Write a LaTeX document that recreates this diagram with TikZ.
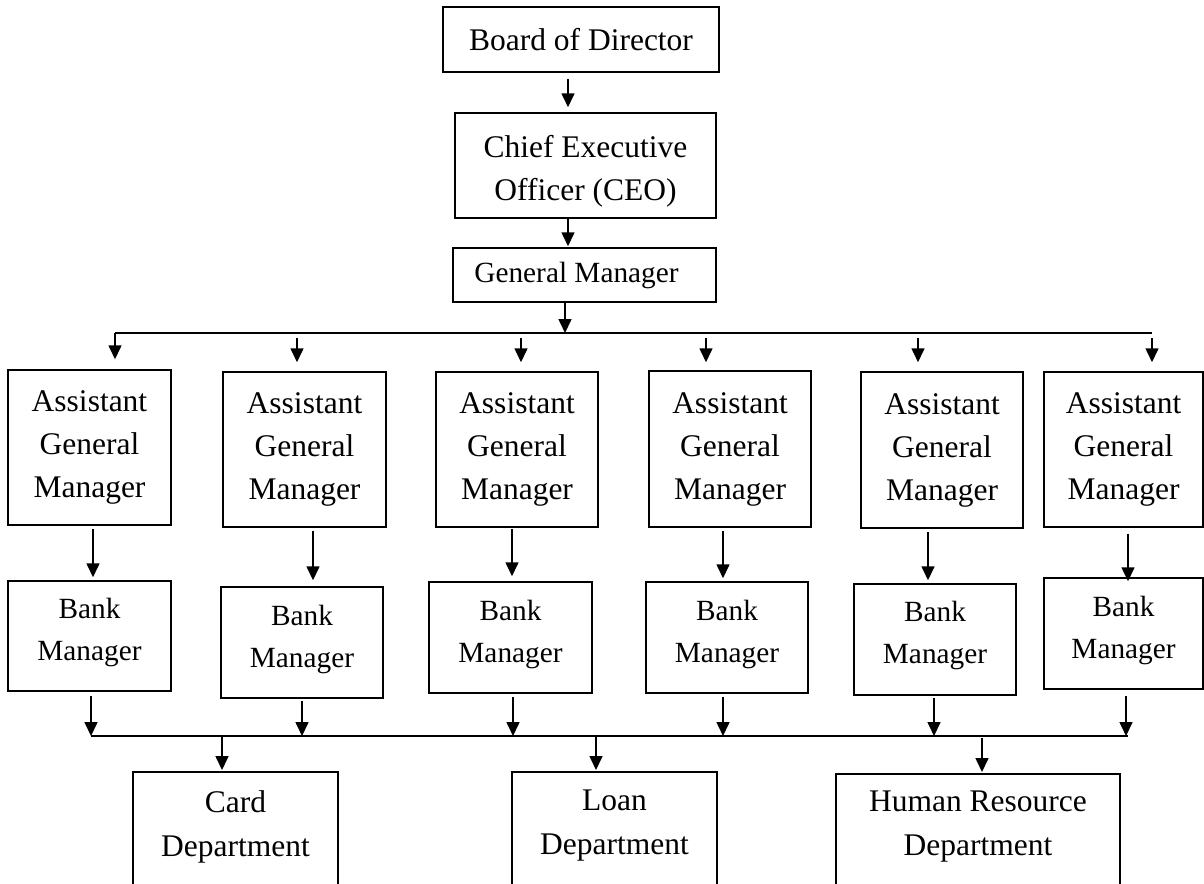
\documentclass[tikz,border=0pt]{standalone}
\usepackage{fontspec}
\setmainfont{Liberation Serif}
\usetikzlibrary{arrows.meta}
\begin{document}
\begin{tikzpicture}[x=1pt,y=-1pt,
  box/.style={draw,line width=1.5pt,inner sep=0pt,align=center,
    font=\fontsize{31.5}{43}\selectfont},
  frame/.style={draw,line width=1.5pt,inner sep=0pt},
  smalltext/.style={inner sep=0pt,align=center,font=\fontsize{29.3}{42}\selectfont},
  label/.style={inner sep=0pt,align=center,font=\fontsize{31.5}{44}\selectfont},
  link/.style={line width=1.6pt},
  arr/.style={link,-{Triangle[width=13pt,length=14pt]}}]
\useasboundingbox (0,0) rectangle (1204,883);
\clip (0,0) rectangle (1204,883);

% top of the hierarchy
\node[box,minimum width=276pt,minimum height=65pt] (board) at (581,39.5) {Board of Director};
\node[frame,minimum width=261pt,minimum height=105pt] (ceo) at (585.5,165.5) {};
\node[label,font=\fontsize{31.5}{43}\selectfont] (ceotxt) at (585.5,171.5) {Chief Executive\\Officer (CEO)};
\node[box,font=\fontsize{29.3}{42}\selectfont,minimum width=263pt,minimum height=54pt] (gm) at (584.5,275) {General Manager\hspace*{16pt}};

% assistant general managers
\node[box,minimum width=163pt,minimum height=155pt] (agm1) at (89.5,447.5) {Assistant\\General\\Manager};
\node[box,minimum width=163pt,minimum height=155pt] (agm2) at (304.5,449.5) {Assistant\\General\\Manager};
\node[box,minimum width=162pt,minimum height=155pt] (agm3) at (517,449.5) {Assistant\\General\\Manager};
\node[box,minimum width=162pt,minimum height=156pt] (agm4) at (730,449) {Assistant\\General\\Manager};
\node[box,minimum width=162pt,minimum height=156pt] (agm5) at (942,450) {Assistant\\General\\Manager};
\node[box,minimum width=159pt,minimum height=155pt] (agm6) at (1123.5,449.5) {Assistant\\General\\Manager};

% bank managers
\node[frame,minimum width=163pt,minimum height=110pt] (bm1) at (89.5,636) {};
\node[smalltext] (bm1txt) at (89.5,632) {Bank\\Manager};
\node[frame,minimum width=162pt,minimum height=111pt] (bm2) at (302,642.5) {};
\node[smalltext] (bm2txt) at (302,639) {Bank\\Manager};
\node[frame,minimum width=163pt,minimum height=111pt] (bm3) at (510.5,637.5) {};
\node[smalltext] (bm3txt) at (510.5,634) {Bank\\Manager};
\node[frame,minimum width=162pt,minimum height=111pt] (bm4) at (727,637.5) {};
\node[smalltext] (bm4txt) at (727,634) {Bank\\Manager};
\node[frame,minimum width=162pt,minimum height=111pt] (bm5) at (935,639.5) {};
\node[smalltext] (bm5txt) at (935,635.5) {Bank\\Manager};
\node[frame,minimum width=159pt,minimum height=111pt] (bm6) at (1123.5,633.5) {};
\node[smalltext] (bm6txt) at (1123.5,630) {Bank\\Manager};

% departments (boxes run past the lower edge)
\node[frame,minimum width=205pt,minimum height=200pt,anchor=north] (card) at (235.5,771) {};
\node[label] (cardtxt) at (235.5,827) {Card\\Department};
\node[frame,minimum width=205pt,minimum height=200pt,anchor=north] (loan) at (614.5,771) {};
\node[label] (loantxt) at (614.5,826) {Loan\\Department};
\node[frame,minimum width=284pt,minimum height=200pt,anchor=north] (hr) at (978,773) {};
\node[label] (hrtxt) at (978,827) {Human Resource\\Department};

% bus lines
\coordinate (busL) at (115,333);
\coordinate (busR) at (1152,333);
\coordinate (lbL) at (91,736);
\coordinate (lbR) at (1128,736);

% connectors
\draw[arr,shorten <=6pt,shorten >=5pt] (568,0 |- board.south) -- (568,0 |- ceo.north);
\draw[arr,shorten >=1pt] (568,0 |- ceo.south) -- (568,0 |- gm.north);
\draw[arr] (565,0 |- gm.south) -- (565,0 |- busL);
\draw[link] (busL) -- (busR);

\draw[arr,shorten >=10pt] (busL) -- (busL |- agm1.north);
\draw[arr,shorten <=5pt,shorten >=9pt] (297,0 |- busL) -- (297,0 |- agm2.north);
\draw[arr,shorten <=5pt,shorten >=9pt] (521,0 |- busL) -- (521,0 |- agm3.north);
\draw[arr,shorten <=5pt,shorten >=8pt] (706,0 |- busL) -- (706,0 |- agm4.north);
\draw[arr,shorten <=5pt,shorten >=9pt] (918,0 |- busL) -- (918,0 |- agm5.north);
\draw[arr,shorten <=5pt,shorten >=9pt] (busR) -- (busR |- agm6.north);

\draw[arr,shorten <=3pt,shorten >=3pt] (93,0 |- agm1.south) -- (93,0 |- bm1.north);
\draw[arr,shorten <=3pt,shorten >=6pt] (313,0 |- agm2.south) -- (313,0 |- bm2.north);
\draw[arr,shorten <=1pt,shorten >=5pt] (512,0 |- agm3.south) -- (512,0 |- bm3.north);
\draw[arr,shorten <=3pt,shorten >=3pt] (723,0 |- agm4.south) -- (723,0 |- bm4.north);
\draw[arr,shorten <=3pt,shorten >=3pt] (928,0 |- agm5.south) -- (928,0 |- bm5.north);
\draw[arr,shorten <=6pt,shorten >=-4pt] (1128,0 |- agm6.south) -- (1128,0 |- bm6.north);

\draw[arr,shorten <=4pt] (91,0 |- bm1.south) -- (lbL);
\draw[arr,shorten <=2pt] (302,0 |- bm2.south) -- (302,0 |- lbL);
\draw[arr,shorten <=3pt] (513,0 |- bm3.south) -- (513,0 |- lbL);
\draw[arr,shorten <=3pt] (723,0 |- bm4.south) -- (723,0 |- lbL);
\draw[arr,shorten <=2pt] (934,0 |- bm5.south) -- (934,0 |- lbL);
\draw[arr,shorten <=6pt] (1126,0 |- bm6.south) -- (1126,0 |- lbL);
\draw[link] (lbL) -- (lbR);

\draw[arr,shorten <=1pt,shorten >=1pt] (222,0 |- lbL) -- (222,0 |- card.north);
\draw[arr,shorten <=1pt,shorten >=1pt] (596,0 |- lbL) -- (596,0 |- loan.north);
\draw[arr,shorten <=2pt,shorten >=1pt] (982,0 |- lbL) -- (982,0 |- hr.north);
\end{tikzpicture}
\end{document}
